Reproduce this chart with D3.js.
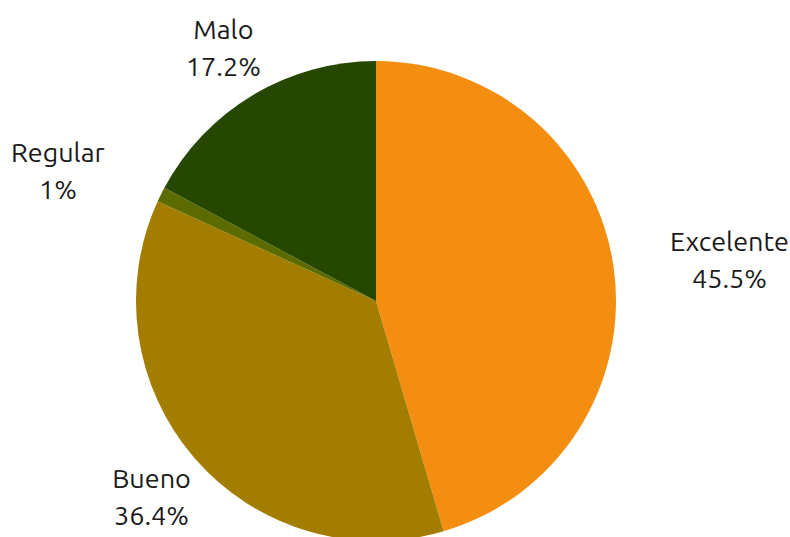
<!DOCTYPE html>
<html>
<head>
<meta charset="utf-8">
<script src="https://cdn.jsdelivr.net/npm/d3@7"></script>
<style>
  html, body { margin: 0; padding: 0; background: #ffffff; }
  svg text { font-family: "Ubuntu", "Noto Sans", "DejaVu Sans", sans-serif; }
</style>
</head>
<body>
<svg id="chart" width="790" height="537"></svg>
<script>
// Quality ratings and their share of responses (percent)
const categories = ["Excelente", "Bueno", "Regular", "Malo"];
const shares = [45.5, 36.4, 1, 17.2];
const colors = ["#f38e11", "#a37d00", "#5b6b00", "#264700"];

const width = 790, height = 537;
const cx = 376, cy = 301, radius = 240, labelRadius = 297;
const fontSize = 27, lineGap = 37, leftPad = 5;

const data = categories.map((c, i) => ({ name: c, value: shares[i], color: colors[i] }));

const svg = d3.select("#chart");
const g = svg.append("g").attr("transform", `translate(${cx},${cy})`);

const pie = d3.pie().sort(null).value(d => d.value);
const arc = d3.arc().innerRadius(0).outerRadius(radius);
const labelArc = d3.arc().innerRadius(labelRadius).outerRadius(labelRadius);

const arcs = pie(data);

g.selectAll("path.slice")
  .data(arcs)
  .join("path")
  .attr("class", "slice")
  .attr("d", arc)
  .attr("fill", d => d.data.color);

// Labels: two centred lines; side labels hang off the anchor point,
// top and bottom labels are centred on it.
const labels = g.selectAll("g.label")
  .data(arcs)
  .join("g")
  .attr("class", "label");

labels.each(function(d) {
  const sel = d3.select(this);
  const [x, y] = labelArc.centroid(d);
  const mid = (d.startAngle + d.endAngle) / 2;
  const t = sel.append("text")
    .attr("text-anchor", "middle")
    .attr("font-size", fontSize)
    .attr("fill", "#1a1a1a");
  t.append("tspan").attr("x", 0).attr("y", -lineGap / 2 + fontSize * 0.4).text(d.data.name);
  t.append("tspan").attr("x", 0).attr("y", lineGap / 2 + fontSize * 0.4).text(d.data.value + "%");
  const w = t.node().getBBox().width;
  let dx = 0;
  if (Math.abs(Math.cos(mid)) < 0.55) dx = Math.sin(mid) > 0 ? w / 2 : -w / 2 - leftPad;
  sel.attr("transform", `translate(${x + dx},${y})`);
});
</script>
</body>
</html>
